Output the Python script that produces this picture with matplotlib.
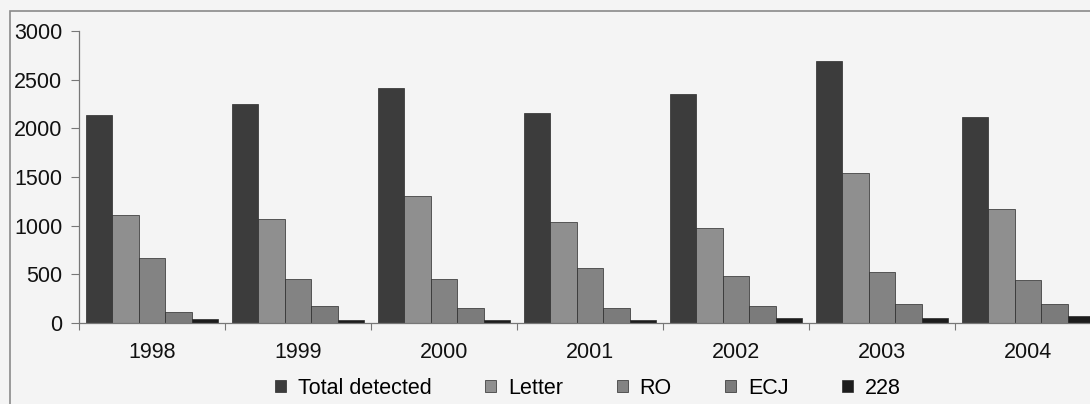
import matplotlib
matplotlib.use("Agg")
import matplotlib.pyplot as plt
import numpy as np
from matplotlib.patches import Rectangle

years = ["1998", "1999", "2000", "2001", "2002", "2003", "2004"]
series_names = ["Total detected", "Letter", "RO", "ECJ", "228"]
total_detected = [2135, 2255, 2415, 2160, 2350, 2695, 2120]
letter = [1110, 1065, 1308, 1035, 973, 1545, 1170]
ro = [670, 450, 450, 562, 480, 520, 442]
ecj = [118, 178, 158, 158, 175, 195, 195]
s228 = [38, 35, 30, 30, 50, 48, 72]
colors = ["#3c3c3c", "#8f8f8f", "#838383", "#7b7b7b", "#1c1c1c"]

plt.rcParams["font.family"] = ["Liberation Sans", "DejaVu Sans"]
W, H = 1090, 404
bg = "#f4f4f4"
fs = 15.5
fig = plt.figure(figsize=(W / 100, H / 100), dpi=100, facecolor=bg)

# outer chart-area frame
fig.patches.append(Rectangle((10 / W, -0.2), 1.5, 1.2 - 11 / H, transform=fig.transFigure,
                             fill=False, edgecolor="#8a8a8a", linewidth=1.2))

ax = fig.add_axes([79 / W, 1 - 323 / H, 1022 / W, 292 / H], facecolor=bg)

x = np.arange(len(years))
bw = 0.1815
data = [total_detected, letter, ro, ecj, s228]
for i, (name, vals) in enumerate(zip(series_names, data)):
    ax.bar(x + (i - 2) * bw, vals, bw, color=colors[i], edgecolor="#2a2a2a",
           linewidth=0.5, label=name)

ax.set_xlim(-0.5, len(years) - 0.5)
ax.set_ylim(0, 3000)
ax.set_yticks(np.arange(0, 3001, 500))
ax.set_xticks(x)
ax.set_xticklabels(years)
ax.set_xticks(np.arange(-0.5, len(years)), minor=True)
ax.tick_params(axis="x", which="major", length=0, pad=14, labelsize=fs, colors="#111111")
ax.tick_params(axis="x", which="minor", length=5, width=0.8, color="#777777")
ax.tick_params(axis="y", length=6, width=0.8, color="#777777", pad=6, labelsize=fs,
               labelcolor="#111111")
for s in ["top", "right"]:
    ax.spines[s].set_visible(False)
for s in ["left", "bottom"]:
    ax.spines[s].set_color("#777777")
    ax.spines[s].set_linewidth(0.9)

fig.legend(loc="center", bbox_to_anchor=(588 / W, 1 - 388 / H), ncol=5, frameon=False,
           fontsize=fs, handlelength=0.5, handleheight=0.5, handletextpad=0.55,
           columnspacing=2.5, borderpad=0)

fig.savefig("out.png", dpi=100, facecolor=bg)
